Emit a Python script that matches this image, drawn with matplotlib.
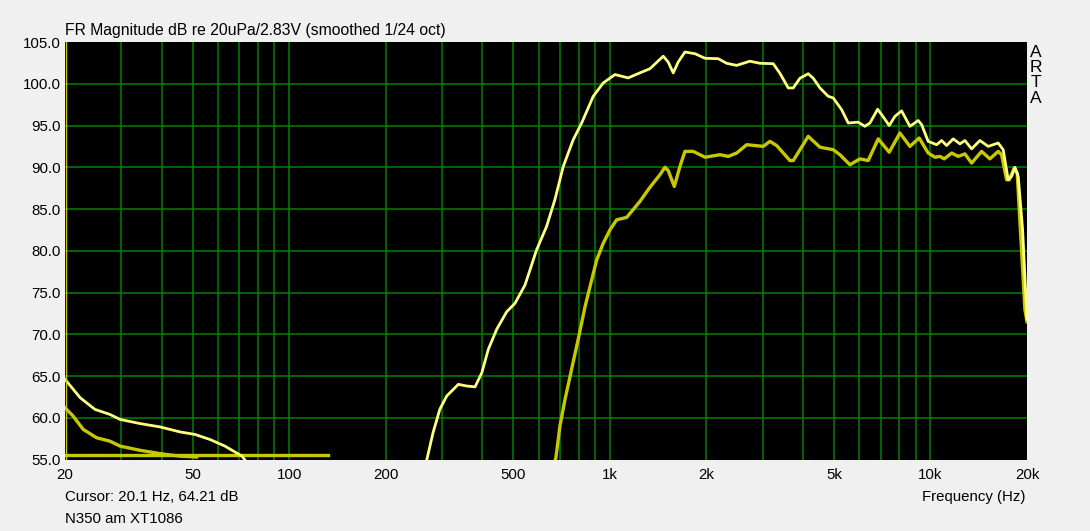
import matplotlib.pyplot as plt
from matplotlib.ticker import FixedLocator, NullFormatter

plt.rcParams['font.family'] = ['Liberation Sans', 'DejaVu Sans']

# upper (bright) trace, low-frequency tail
hi_low_freq = [20, 22.3, 24.8, 27.6, 29.7, 34.3, 39.6, 45.7, 50.9, 56.6, 63.1, 71.3, 76]
hi_low_db = [64.6, 62.4, 61.0, 60.4, 59.8, 59.3, 58.9, 58.3, 58.0, 57.4, 56.6, 55.4, 54.0]

# upper (bright) trace, main band
hi_freq = [267, 281, 295, 310, 337, 358, 380, 399, 418, 444, 477, 506, 544, 591, 635, 674,
           716, 769, 817, 888, 954, 1038, 1141, 1241, 1334, 1468, 1521, 1577, 1634, 1715,
           1843, 1980, 2178, 2314, 2486, 2735, 2939, 3234, 3393, 3601, 3733, 3917, 4157,
           4309, 4522, 4798, 4974, 5283, 5540, 5951, 6246, 6474, 6842, 7042, 7436, 7748,
           8128, 8628, 9158, 9384, 9838, 10452, 10834, 11230, 11774, 12354, 12806, 13438,
           14260, 15136, 16262, 16858, 17474, 17908, 18340, 18778, 19380, 20000]
hi_db = [54.5, 58.2, 61.0, 62.6, 64.0, 63.8, 63.7, 65.4, 68.2, 70.6, 72.7, 73.7, 75.9, 80.1,
         82.9, 86.1, 90.1, 93.3, 95.3, 98.5, 100.1, 101.1, 100.7, 101.3, 101.8, 103.3, 102.6,
         101.3, 102.6, 103.8, 103.6, 103.05, 103.0, 102.45, 102.2, 102.7, 102.45, 102.4,
         101.25, 99.5, 99.5, 100.66, 101.2, 100.66, 99.5, 98.5, 98.3, 96.9, 95.3, 95.4, 94.9,
         95.3, 96.95, 96.3, 95.0, 96.1, 96.75, 94.9, 95.6, 95.1, 93.1, 92.7, 93.2, 92.6, 93.4,
         92.8, 93.2, 92.2, 93.2, 92.5, 92.9, 92.1, 88.5, 88.9, 90.0, 88.9, 82.5, 71.8]

# lower (dark) trace, low-frequency tail
lo_low_freq = [20, 21.2, 22.8, 25.1, 27.6, 29.7, 34.3, 39.6, 45.7, 51.5]
lo_low_db = [61.2, 60.2, 58.6, 57.6, 57.2, 56.6, 56.1, 55.7, 55.4, 55.3]

# lower trace floor segment
floor_freq = [20, 132]
floor_db = [55.5, 55.5]

# lower (dark) trace, main band
lo_freq = [670, 679, 699, 725, 760, 797, 837, 878, 910, 954, 1001, 1050, 1129, 1241, 1334,
           1433, 1486, 1521, 1589, 1655, 1715, 1821, 1980, 2205, 2341, 2486, 2672, 3010,
           3157, 3314, 3646, 3733, 4157, 4522, 4974, 5220, 5608, 6024, 6394, 6871, 7436,
           8030, 8628, 9220, 9838, 10326, 10704, 11036, 11640, 12202, 12806, 13438, 14436,
           15322, 16262, 16664, 17274, 17600, 18248, 18640, 19698, 20000]
lo_db = [54.5, 55.2, 59.0, 62.2, 65.8, 69.4, 73.3, 76.5, 78.9, 80.9, 82.5, 83.7, 84.0, 85.9,
         87.6, 89.1, 90.0, 89.6, 87.7, 90.1, 91.9, 91.9, 91.2, 91.5, 91.3, 91.7, 92.7, 92.5,
         93.1, 92.6, 90.8, 90.8, 93.7, 92.4, 92.1, 91.5, 90.3, 91.0, 90.8, 93.4, 91.8, 94.1,
         92.5, 93.5, 91.7, 91.2, 91.3, 91.0, 91.7, 91.3, 91.6, 90.5, 91.9, 91.0, 91.9, 91.5,
         88.5, 88.5, 89.9, 89.3, 73.0, 71.5]

x_ticks = [20, 50, 100, 200, 500, 1000, 2000, 5000, 10000, 20000]
x_tick_labels = ['20', '50', '100', '200', '500', '1k', '2k', '5k', '10k', '20k']
y_ticks = [55, 60, 65, 70, 75, 80, 85, 90, 95, 100, 105]

bright = '#ffff80'
dark = '#c8c800'
grid_green = '#008000'

fig = plt.figure(figsize=(10.9, 5.31), dpi=100, facecolor='#f0f0f0')
ax = fig.add_axes([65 / 1090, 1 - 459.5 / 531, 962 / 1090, 417.5 / 531])
ax.set_facecolor('black')
ax.set_xscale('log')
ax.set_xlim(20, 20000)
ax.set_ylim(55, 105)

# grid: every integer multiple of each decade, inner lines only
grid_x = [m * 10 ** e for e in range(1, 5) for m in range(1, 10) if 20 < m * 10 ** e < 20000]
for gx in grid_x:
    ax.axvline(gx, color=grid_green, lw=1.1, zorder=1)
for gy in y_ticks[1:-1]:
    ax.axhline(gy, color=grid_green, lw=1.1, zorder=1)

ax.plot(floor_freq, floor_db, color=dark, lw=2.4, zorder=3)
ax.plot(lo_low_freq, lo_low_db, color=dark, lw=2.4, zorder=3)
ax.plot(lo_freq, lo_db, color=dark, lw=2.4, zorder=3)
ax.plot(hi_low_freq, hi_low_db, color=bright, lw=2.0, zorder=4)
ax.plot(hi_freq, hi_db, color=bright, lw=2.0, zorder=4)

# cursor
ax.axvline(20.1, color='#c8c800', lw=1.0, zorder=5)

ax.xaxis.set_major_locator(FixedLocator(x_ticks))
ax.xaxis.set_minor_locator(FixedLocator([]))
ax.xaxis.set_minor_formatter(NullFormatter())
ax.set_xticklabels(x_tick_labels)
ax.set_yticks(y_ticks)
ax.set_yticklabels([f'{v:.1f}' for v in y_ticks])
ax.tick_params(axis='both', length=0, labelsize=10.8, colors='black')
ax.tick_params(axis='x', pad=6)
ax.tick_params(axis='y', pad=3)
for s in ax.spines.values():
    s.set_visible(False)

fig.text(65 / 1090, 1 - 31 / 531, 'FR Magnitude dB re 20uPa/2.83V (smoothed 1/24 oct)',
         fontsize=11.3, ha='left', va='center')
fig.text(65 / 1090, 1 - 497 / 531, 'Cursor: 20.1 Hz, 64.21 dB', fontsize=10.8, ha='left', va='center')
fig.text(65 / 1090, 1 - 519 / 531, 'N350 am XT1086', fontsize=10.8, ha='left', va='center')
fig.text(1026 / 1090, 1 - 497 / 531, 'Frequency (Hz)', fontsize=10.8, ha='right', va='center')
for i, ch in enumerate('ARTA'):
    fig.text(1036 / 1090, 1 - (57 + i * 15.2) / 531, ch, fontsize=12.5, ha='center', va='baseline')

fig.savefig('out.png', dpi=100, facecolor=fig.get_facecolor())
